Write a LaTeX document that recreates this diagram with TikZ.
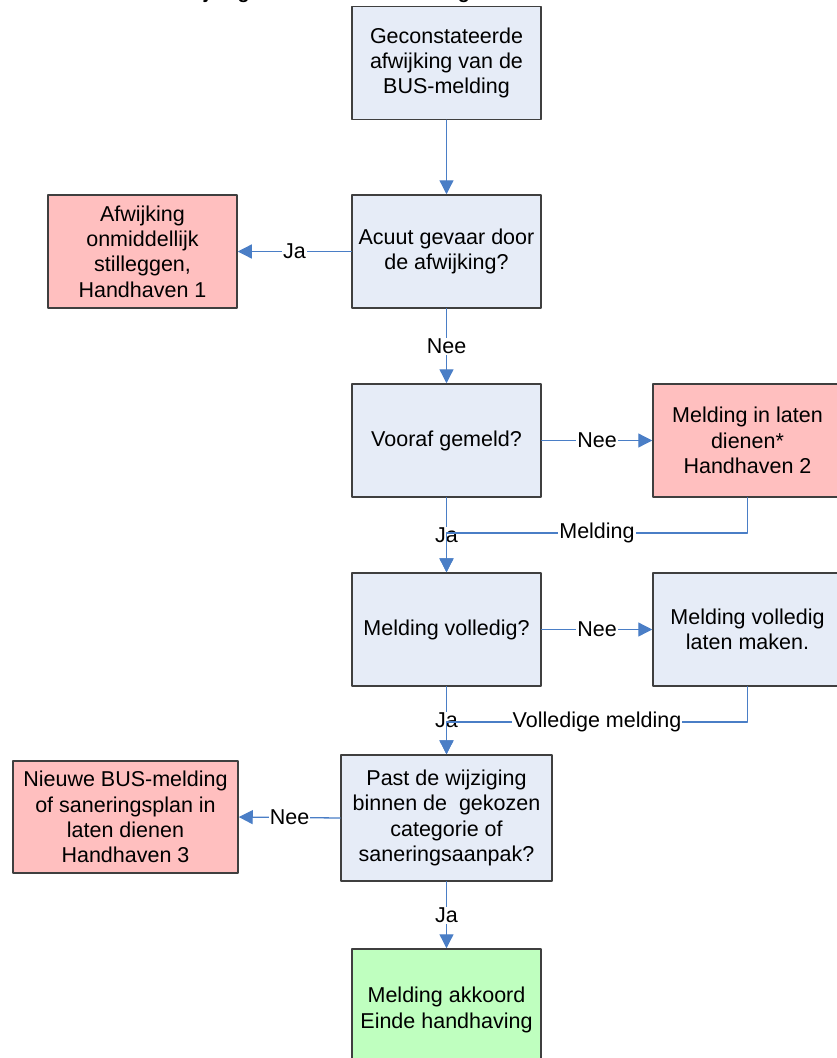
\documentclass[tikz,border=0pt]{standalone}
\usepackage{fontspec}
\setmainfont{Liberation Sans}
\usepackage{tikz}
\usetikzlibrary{arrows.meta}
\definecolor{vakblauw}{HTML}{E6ECF7}
\definecolor{vakrood}{HTML}{FFBFBF}
\definecolor{vakgroen}{HTML}{BFFFBF}
\definecolor{lijnblauw}{HTML}{4A7EC6}
\definecolor{rand}{HTML}{3F3F3F}

\begin{document}
\begin{tikzpicture}[line cap=round,line join=round,>={Triangle[width=14pt,length=14pt]},x=1pt,y=-1pt,
vak/.style={draw=rand,line width=1.5pt,fill=vakblauw,minimum width=189pt,minimum height=113pt,inner sep=0pt,align=center,font=\fontsize{21.5}{25.3}\selectfont},
rood/.style={vak,fill=vakrood},
groen/.style={vak,fill=vakgroen},
lijn/.style={color=lijnblauw,line width=1.3pt},
lbl/.style={fill=white,text=black,inner sep=1pt,font=\fontsize{21.5}{25.3}\selectfont}]
\useasboundingbox (0,0) rectangle (836,1058);
\node[anchor=base,font=\bfseries\fontsize{19.7}{24}\selectfont] (titel) at (316,-1.2) {Afwijkingen van de BUS-melding};
\node[vak] (gecon) at (446.5,63) {Geconstateerde\\afwijking van de\\BUS-melding};
\node[vak] (acuut) at (446.5,251.5) {Acuut gevaar door\\de afwijking?};
\node[rood] (stil) at (142.5,251.5) {Afwijking\\onmiddellijk\\stilleggen,\\Handhaven 1};
\node[vak] (vooraf) at (446.5,440.5) {Vooraf gemeld?};
\node[rood] (inlaten) at (747.5,440.5) {Melding in laten\\dienen*\\Handhaven 2};
\node[vak] (volledig) at (446.5,629.5) {Melding volledig?};
\node[vak] (maken) at (747.5,629.5) {Melding volledig\\laten maken.};
\node[vak,minimum width=211pt,minimum height=126pt] (past) at (446.5,818) {Past de wijziging\\binnen de\ \ gekozen\\categorie of\\saneringsaanpak?};
\node[rood,minimum width=225pt,minimum height=112pt] (nieuw) at (125.5,817) {Nieuwe BUS-melding\\of saneringsplan in\\laten dienen\\Handhaven 3};
\node[groen,minimum height=122pt] (akkoord) at (446.5,1010) {Melding akkoord\\Einde handhaving};
\coordinate (m1) at (747.5,533);
\coordinate (m2) at (747.5,722);
\draw[lijn,->] (gecon.south) -- (acuut.north);
\draw[lijn,->] (acuut.west) -- node[lbl]{Ja} (stil.east);
\draw[lijn,->] (acuut.south) -- node[lbl]{Nee} (vooraf.north);
\draw[lijn,->] (vooraf.east) -- node[lbl]{Nee} (inlaten.west);
\draw[lijn,->] (vooraf.south) -- node[lbl]{Ja} (volledig.north);
\draw[lijn,->] (inlaten.south) -- (m1) -- node[lbl]{Melding} (m1 -| volledig.north) -- (volledig.north);
\draw[lijn,->] (volledig.east) -- node[lbl]{Nee} (maken.west);
\draw[lijn,->] (volledig.south) -- node[lbl]{Ja} (past.north);
\draw[lijn,->] (maken.south) -- (m2) -- node[lbl]{Volledige melding} (m2 -| past.north) -- (past.north);
\draw[lijn,->] (past.west) -- node[lbl]{Nee} (nieuw.east);
\draw[lijn,->] (past.south) -- node[lbl]{Ja} (akkoord.north);
\end{tikzpicture}
\end{document}
